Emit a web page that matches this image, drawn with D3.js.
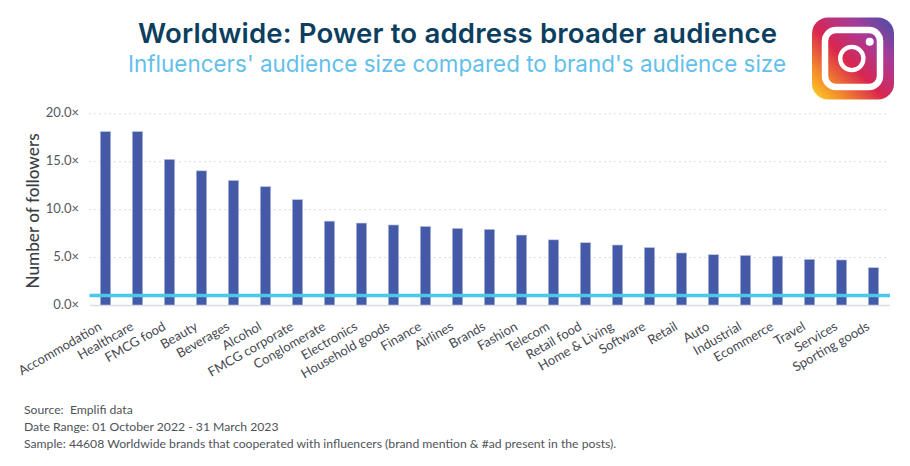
<!DOCTYPE html>
<html>
<head>
<meta charset="utf-8">
<script src="https://cdnjs.cloudflare.com/ajax/libs/d3/7.8.5/d3.min.js"></script>
<style>
html, body { margin: 0; padding: 0; background: #fff; }
svg { display: block; }
text { font-family: Lato, "Open Sans", sans-serif; }
</style>
</head>
<body>
<svg id="chart" width="910" height="466"></svg>
<script>
let categories = ["Accommodation", "Healthcare", "FMCG food", "Beauty", "Beverages", "Alcohol", "FMCG corporate",
	"Conglomerate", "Electronics", "Household goods", "Finance", "Airlines", "Brands", "Fashion", "Telecom",
	"Retail food", "Home & Living", "Software", "Retail", "Auto", "Industrial", "Ecommerce", "Travel", "Services",
	"Sporting goods"];
let values = [18.1, 18.1, 15.2, 14.0, 13.0, 12.35, 11.0, 8.75, 8.55, 8.35, 8.2, 8.0, 7.9, 7.3, 6.8, 6.5, 6.26, 6.0,
	5.43, 5.25, 5.18, 5.1, 4.77, 4.7, 3.9];
let yTicks = [0, 5, 10, 15, 20];
let baseline = 1;
let notes = ["Source:  Emplifi data", "Date Range: 01 October 2022 - 31 March 2023",
	"Sample: 44608 Worldwide brands that cooperated with influencers (brand mention & #ad present in the posts)."];

let svg = d3.select("#chart");

let x = d3.scaleBand().domain(categories).range([89.5, 889.5]);
let y = d3.scaleLinear().domain([0, 20]).range([305, 113.3]);

// titles
svg.append("text").attr("x", 457.5).attr("y", 42.5).attr("text-anchor", "middle")
	.attr("textLength", 639).attr("lengthAdjust", "spacing")
	.style("font-family", "Inter, sans-serif").style("font-size", "27.6px").style("font-weight", 600)
	.attr("fill", "#0c3f5f").text("Worldwide: Power to address broader audience");
svg.append("text").attr("x", 457).attr("y", 72).attr("text-anchor", "middle")
	.attr("textLength", 658).attr("lengthAdjust", "spacing")
	.style("font-family", "Inter, sans-serif").style("font-size", "22.4px").style("font-weight", 400)
	.attr("fill", "#62bfec").text("Influencers' audience size compared to brand's audience size");

// grid
let grid = svg.append("g").attr("transform", "translate(89.5,0)")
	.call(d3.axisLeft(y).tickValues(yTicks.filter(d => d > 0)).tickSize(-800).tickFormat(""));
grid.select(".domain").remove();
grid.selectAll("line").attr("stroke", "#b8bac0").attr("stroke-width", 1).attr("stroke-dasharray", "1 4");

// y axis
let yAxis = svg.append("g").attr("transform", "translate(81,-0.5)")
	.call(d3.axisLeft(y).tickValues(yTicks).tickSize(0).tickPadding(2).tickFormat(d => d3.format(".1f")(d) + "×"));
yAxis.select(".domain").remove();
yAxis.selectAll("text").style("font-size", "13px").attr("fill", "#55585f");

svg.append("text").attr("transform", "translate(39,211) rotate(-90)").attr("text-anchor", "middle")
	.style("font-size", "17.2px").style("font-weight", 500).attr("fill", "#3c3f45").text("Number of followers");

// x axis
let xAxis = svg.append("g").attr("transform", "translate(0,305)")
	.call(d3.axisBottom(x).tickSize(0).tickPadding(0));
xAxis.select(".domain").attr("stroke", "#dcdde4").attr("stroke-width", 1.5);
xAxis.selectAll("text")
	.attr("text-anchor", "end")
	.attr("dy", 0)
	.attr("y", 0)
	.attr("transform", "translate(-3,24) rotate(-30)")
	.style("font-size", "13px")
	.attr("fill", "#45484f");

// bars
svg.append("g").selectAll("rect").data(values).join("rect")
	.attr("x", (d, i) => x(categories[i]) + x.bandwidth() / 2 - 5.25)
	.attr("width", 10.5)
	.attr("y", d => y(d))
	.attr("height", d => y(0) - y(d))
	.attr("fill", "#4459a7")
	.attr("stroke", "#c4cbe6")
	.attr("stroke-width", 0.6);

// reference line at 1x
svg.append("line").attr("x1", 89.5).attr("x2", 890)
	.attr("y1", y(baseline)).attr("y2", y(baseline))
	.attr("stroke", "#4ac8ec").attr("stroke-width", 3.5);

// footnotes
svg.append("g").selectAll("text").data(notes).join("text")
	.attr("x", 24)
	.attr("y", (d, i) => 414 + i * 17)
	.style("font-size", "12.2px")
	.style("white-space", "pre")
	.attr("fill", "#50535a")
	.text(d => d);

// instagram logo
let defs = svg.append("defs");
let grad = defs.append("linearGradient").attr("id", "igGrad")
	.attr("x1", "0%").attr("y1", "100%").attr("x2", "100%").attr("y2", "0%");
[["0%", "#fdd824"], ["20%", "#f58a2a"], ["45%", "#d9264f"], ["72%", "#a83a98"], ["100%", "#4250a8"]].forEach(function(s){
	grad.append("stop").attr("offset", s[0]).attr("stop-color", s[1]);
});
let logo = svg.append("g").attr("transform", "translate(812,17.5)");
logo.append("rect").attr("width", 82).attr("height", 82).attr("rx", 16).attr("fill", "url(#igGrad)");
logo.append("rect").attr("x", 13).attr("y", 12.5).attr("width", 55).attr("height", 57).attr("rx", 11)
	.attr("fill", "none").attr("stroke", "#fff").attr("stroke-width", 6.5);
logo.append("circle").attr("cx", 39.8).attr("cy", 41).attr("r", 11.6)
	.attr("fill", "none").attr("stroke", "#fff").attr("stroke-width", 4.4);
logo.append("circle").attr("cx", 57.7).attr("cy", 24.3).attr("r", 4).attr("fill", "#fff");
</script>
</body>
</html>
